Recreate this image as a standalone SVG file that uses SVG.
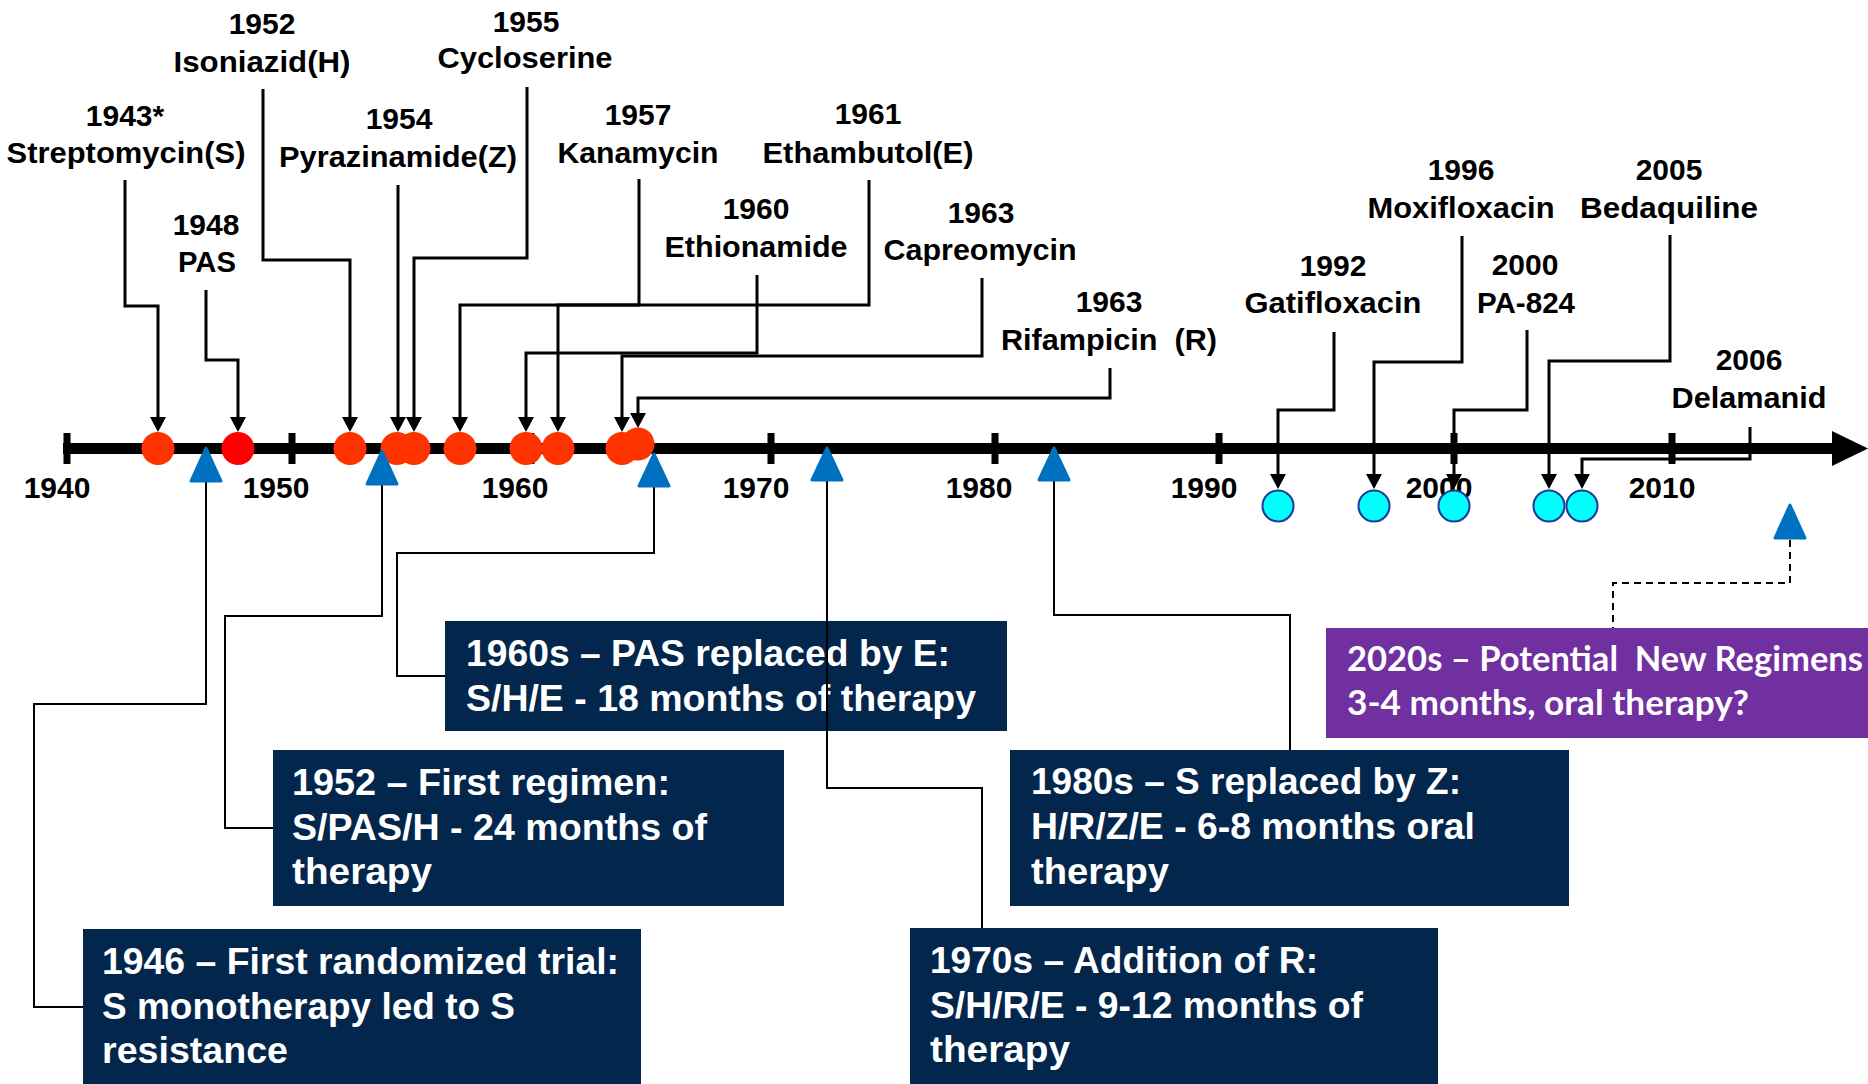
<svg xmlns="http://www.w3.org/2000/svg" width="1868" height="1084" viewBox="0 0 1868 1084">
  <style>
    .lbl{font-family:"Liberation Sans",Arial,sans-serif;font-weight:bold;font-size:30px;fill:#000;text-anchor:middle}
    .box{fill:#03264C}
    .pbox{fill:#7030A0}
    .bt{font-family:"Liberation Sans",Arial,sans-serif;font-weight:bold;font-size:37px;fill:#fff}
    .pt{font-family:Lato,"Liberation Sans",sans-serif;font-weight:bold;font-size:34px;fill:#fff}
    .lead{fill:none;stroke:#000;stroke-width:3;marker-end:url(#ah)}
    .thin{fill:none;stroke:#000;stroke-width:2}
    .dash{fill:none;stroke:#000;stroke-width:2;stroke-dasharray:7 5}
    .red{fill:#FF3300}
    .cyan{fill:#00FFFF;stroke:#1F3C98;stroke-width:2}
    .tri{fill:#0070C0;stroke:#0070C0;stroke-width:3;stroke-linejoin:round}
  </style>
  <defs>
    <marker id="ah" markerUnits="userSpaceOnUse" markerWidth="16" markerHeight="16" refX="5" refY="8" orient="auto">
      <path d="M0,0 L15,8 L0,16 Z" fill="#000"/>
    </marker>
  </defs>
  <rect width="1868" height="1084" fill="#fff"/>

  <!-- time axis -->
  <g id="axis">
    <rect x="63" y="443" width="1772" height="11" fill="#000"/>
    <polygon points="1832,431 1868,448.5 1832,466" fill="#000"/>
    <g fill="#000">
      <rect x="63.5" y="433" width="7" height="31"/>
      <rect x="288.5" y="433" width="7" height="31"/>
      <rect x="527.5" y="433" width="7" height="31"/>
      <rect x="767.5" y="433" width="7" height="31"/>
      <rect x="991.5" y="433" width="7" height="31"/>
      <rect x="1215.5" y="433" width="7" height="31"/>
      <rect x="1450.5" y="433" width="7" height="31"/>
      <rect x="1668.5" y="433" width="7" height="31"/>
    </g>
    <text class="lbl" x="57" y="498">1940</text>
    <text class="lbl" x="276" y="498">1950</text>
    <text class="lbl" x="515" y="498">1960</text>
    <text class="lbl" x="756" y="498">1970</text>
    <text class="lbl" x="979" y="498">1980</text>
    <text class="lbl" x="1204" y="498">1990</text>
    <text class="lbl" x="1439" y="498">2000</text>
    <text class="lbl" x="1662" y="498">2010</text>
  </g>

  <!-- drug discoveries -->
  <g id="streptomycin">
    <text class="lbl" x="125" y="126">1943*</text>
    <text class="lbl" x="126" y="163" textLength="239" lengthAdjust="spacingAndGlyphs">Streptomycin(S)</text>
    <circle class="red" cx="158" cy="448.5" r="16.5"/>
  </g>
  <g id="pas">
    <text class="lbl" x="206" y="235">1948</text>
    <text class="lbl" x="207" y="272" textLength="58" lengthAdjust="spacingAndGlyphs">PAS</text>
    <circle cx="238" cy="448.5" r="16.5" fill="#FF0000"/>
  </g>
  <g id="isoniazid">
    <text class="lbl" x="262" y="34">1952</text>
    <text class="lbl" x="262" y="72" textLength="177" lengthAdjust="spacingAndGlyphs">Isoniazid(H)</text>
    <circle class="red" cx="350" cy="448.5" r="16.5"/>
  </g>
  <g id="pyrazinamide">
    <text class="lbl" x="399" y="129">1954</text>
    <text class="lbl" x="398" y="167" textLength="238" lengthAdjust="spacingAndGlyphs">Pyrazinamide(Z)</text>
    <circle class="red" cx="397" cy="448.5" r="16.5"/>
  </g>
  <g id="cycloserine">
    <text class="lbl" x="526" y="32">1955</text>
    <text class="lbl" x="525" y="68" textLength="175" lengthAdjust="spacingAndGlyphs">Cycloserine</text>
    <circle class="red" cx="414" cy="448.5" r="16.5"/>
  </g>
  <g id="kanamycin">
    <text class="lbl" x="638" y="125">1957</text>
    <text class="lbl" x="638" y="163" textLength="161" lengthAdjust="spacingAndGlyphs">Kanamycin</text>
    <circle class="red" cx="460" cy="448.5" r="16.5"/>
  </g>
  <g id="ethionamide">
    <text class="lbl" x="756" y="219">1960</text>
    <text class="lbl" x="756" y="257" textLength="183" lengthAdjust="spacingAndGlyphs">Ethionamide</text>
    <circle class="red" cx="526" cy="448.5" r="16.5"/>
  </g>
  <g id="ethambutol">
    <text class="lbl" x="868" y="124">1961</text>
    <text class="lbl" x="868" y="163" textLength="211" lengthAdjust="spacingAndGlyphs">Ethambutol(E)</text>
    <circle class="red" cx="558" cy="448.5" r="16.5"/>
  </g>
  <g id="capreomycin">
    <text class="lbl" x="981" y="223">1963</text>
    <text class="lbl" x="980" y="260" textLength="193" lengthAdjust="spacingAndGlyphs">Capreomycin</text>
    <circle class="red" cx="622" cy="448.5" r="16.5"/>
  </g>
  <g id="rifampicin">
    <text class="lbl" x="1109" y="312">1963</text>
    <text class="lbl" x="1109" y="350" xml:space="preserve" textLength="216" lengthAdjust="spacingAndGlyphs">Rifampicin  (R)</text>
    <circle class="red" cx="638" cy="444" r="16.5"/>
  </g>
  <g id="gatifloxacin">
    <text class="lbl" x="1333" y="276">1992</text>
    <text class="lbl" x="1333" y="313" textLength="177" lengthAdjust="spacingAndGlyphs">Gatifloxacin</text>
    <circle class="cyan" cx="1278" cy="506" r="15.5" stroke="#4169C8"/>
  </g>
  <g id="moxifloxacin">
    <text class="lbl" x="1461" y="180">1996</text>
    <text class="lbl" x="1461" y="218" textLength="187" lengthAdjust="spacingAndGlyphs">Moxifloxacin</text>
    <circle class="cyan" cx="1374" cy="506" r="15.5"/>
  </g>
  <g id="pa824">
    <text class="lbl" x="1525" y="275">2000</text>
    <text class="lbl" x="1526" y="313" textLength="98" lengthAdjust="spacingAndGlyphs">PA-824</text>
    <circle class="cyan" cx="1454" cy="506" r="15.5"/>
  </g>
  <g id="bedaquiline">
    <text class="lbl" x="1669" y="180">2005</text>
    <text class="lbl" x="1669" y="218" textLength="178" lengthAdjust="spacingAndGlyphs">Bedaquiline</text>
    <circle class="cyan" cx="1549" cy="506" r="15.5"/>
  </g>
  <g id="delamanid">
    <text class="lbl" x="1749" y="370">2006</text>
    <text class="lbl" x="1749" y="408" textLength="155" lengthAdjust="spacingAndGlyphs">Delamanid</text>
    <circle class="cyan" cx="1582" cy="506" r="15.5"/>
  </g>

  <!-- treatment regimen boxes -->
  <g id="regimen-1946">
    <rect class="box" x="83" y="929" width="558" height="155"/>
    <text class="bt" x="102" y="974" textLength="517" lengthAdjust="spacingAndGlyphs">1946 – First randomized trial:</text>
    <text class="bt" x="102" y="1019" textLength="413" lengthAdjust="spacingAndGlyphs">S monotherapy led to S</text>
    <text class="bt" x="102" y="1063" textLength="186" lengthAdjust="spacingAndGlyphs">resistance</text>
  </g>
  <g id="regimen-1952">
    <rect class="box" x="273" y="750" width="511" height="156"/>
    <text class="bt" x="292" y="795" textLength="378" lengthAdjust="spacingAndGlyphs">1952 – First regimen:</text>
    <text class="bt" x="292" y="840" textLength="415" lengthAdjust="spacingAndGlyphs">S/PAS/H - 24 months of</text>
    <text class="bt" x="292" y="884" textLength="140" lengthAdjust="spacingAndGlyphs">therapy</text>
  </g>
  <g id="regimen-1960s">
    <rect class="box" x="445" y="621" width="562" height="110"/>
    <text class="bt" x="466" y="666" textLength="484" lengthAdjust="spacingAndGlyphs">1960s – PAS replaced by E:</text>
    <text class="bt" x="466" y="711" textLength="510" lengthAdjust="spacingAndGlyphs">S/H/E - 18 months of therapy</text>
  </g>
  <g id="regimen-1970s">
    <rect class="box" x="910" y="928" width="528" height="156"/>
    <text class="bt" x="930" y="973" textLength="388" lengthAdjust="spacingAndGlyphs">1970s – Addition of R:</text>
    <text class="bt" x="930" y="1018" textLength="433" lengthAdjust="spacingAndGlyphs">S/H/R/E - 9-12 months of</text>
    <text class="bt" x="930" y="1062" textLength="140" lengthAdjust="spacingAndGlyphs">therapy</text>
  </g>
  <g id="regimen-1980s">
    <rect class="box" x="1010" y="750" width="559" height="156"/>
    <text class="bt" x="1031" y="794" textLength="430" lengthAdjust="spacingAndGlyphs">1980s – S replaced by Z:</text>
    <text class="bt" x="1031" y="839" textLength="444" lengthAdjust="spacingAndGlyphs">H/R/Z/E - 6-8 months oral</text>
    <text class="bt" x="1031" y="884" textLength="138" lengthAdjust="spacingAndGlyphs">therapy</text>
  </g>
  <g id="regimen-2020s">
    <rect class="pbox" x="1326" y="628" width="542" height="110"/>
    <text class="pt" x="1347" y="671" xml:space="preserve" textLength="516" lengthAdjust="spacingAndGlyphs">2020s – Potential  New Regimens</text>
    <text class="pt" x="1347" y="715" textLength="402" lengthAdjust="spacingAndGlyphs">3-4 months, oral therapy?</text>
  </g>

  <!-- leader lines -->
  <g id="connectors">
    <path class="lead" d="M125,180 V306 H158 V422"/>
    <path class="lead" d="M206,290 V360 H238 V422"/>
    <path class="lead" d="M263,89 V260 H350 V422"/>
    <path class="lead" d="M398,185 V422"/>
    <path class="lead" d="M527,87 V258 H414 V422"/>
    <path class="lead" d="M639,179 V305 H460 V422"/>
    <path class="lead" d="M869,180 V305 H558 V422"/>
    <path class="lead" d="M757,275 V353 H526 V422"/>
    <path class="lead" d="M982,278 V356 H622 V422"/>
    <path class="lead" d="M1110,368 V398 H638 V418"/>
    <path class="lead" d="M1334,332 V410 H1278 V479"/>
    <path class="lead" d="M1462,236 V362 H1374 V479"/>
    <path class="lead" d="M1527,330 V410 H1454 V479"/>
    <path class="lead" d="M1670,235 V361 H1549 V479"/>
    <path class="lead" d="M1750,427 V459 H1582 V479"/>

    <path class="thin" d="M206,482 V704 H34 V1007 H83"/>
    <path class="thin" d="M382,485 V616 H225 V828 H273"/>
    <path class="thin" d="M654,487 V553 H397 V676 H445"/>
    <path class="thin" d="M827,481 V788 H982 V928"/>
    <path class="thin" d="M1054,481 V615 H1290 V750"/>
    <path class="dash" d="M1790,540 V583 H1613 V628"/>
  </g>

  <!-- regimen era markers -->
  <g id="era-1946"><polygon class="tri" points="206,448 191,481 221,481"/></g>
  <g id="era-1952"><polygon class="tri" points="382,451 367,484 397,484"/></g>
  <g id="era-1960s"><polygon class="tri" points="654,454 639,486 669,486"/></g>
  <g id="era-1970s"><polygon class="tri" points="827,448 812,480 842,480"/></g>
  <g id="era-1980s"><polygon class="tri" points="1054,448 1039,480 1069,480"/></g>
  <g id="era-2020s"><polygon class="tri" points="1790,505 1775,538 1805,538"/></g>
</svg>
